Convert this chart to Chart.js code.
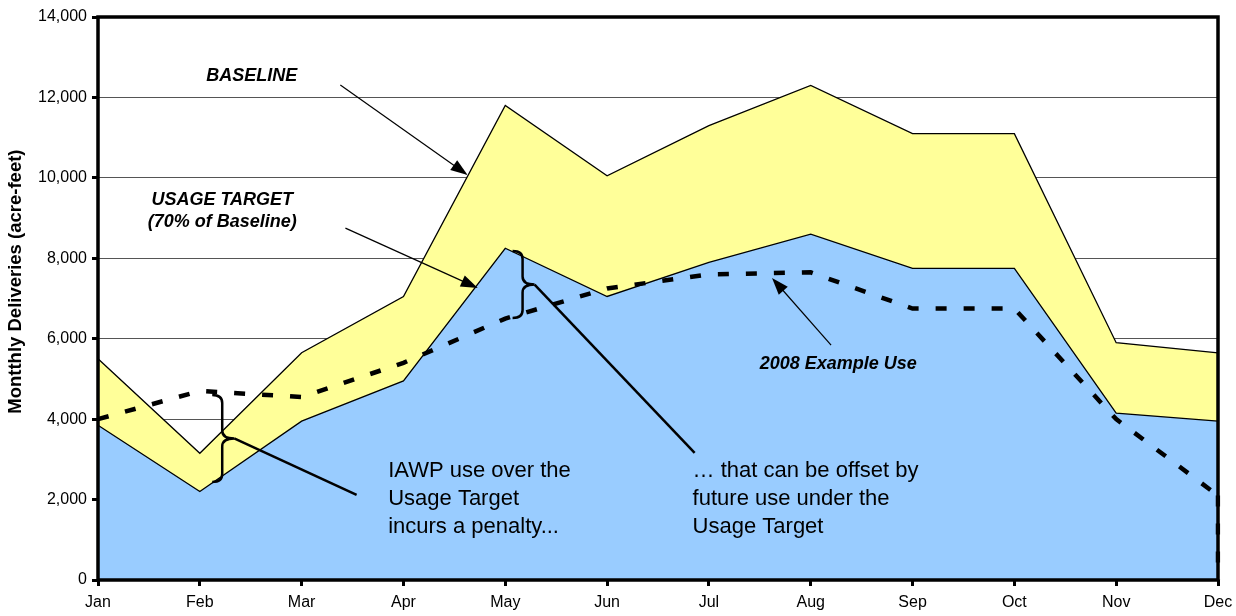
<!DOCTYPE html>
<html>
<head>
<meta charset="utf-8">
<script src="https://cdn.jsdelivr.net/npm/chart.js@4"></script>
<style>
  html, body { margin: 0; padding: 0; background: #ffffff; }
  #wrap { width: 1236px; height: 616px; }
</style>
</head>
<body>
<div id="wrap"><canvas id="deliveriesChart"></canvas></div>
<script>

const MESES = ["Jan", "Feb", "Mar", "Apr", "May", "Jun",
               "Jul", "Aug", "Sep", "Oct", "Nov", "Dec"];

const BASELINE = [5500, 3150, 5650, 7050, 11800, 10050,
                  11300, 12300, 11100, 11100, 5900, 5650];

const USAGE_TARGET = [3850, 2200, 3950, 4950, 8250, 7050,
                      7900, 8600, 7750, 7750, 4150, 3950];

const EXAMPLE_USE = [4000, 4700, 4550, 5400, 6500, 7250,
                     7600, 7650, 6750, 6750, 4000, 2100];

const Y_TICKS = [0, 2000, 4000, 6000, 8000, 10000, 12000, 14000];

const TITULO_Y = "Montthly Deliveries (acre-feet)";

const FUENTE = "'Liberation Sans', Arial, sans-serif";

// annotations in data units: [month index, value]
const ETIQUETAS = [
    { text: "BASELINE", at: [1.51, 12530], font: "italic bold 18px", align: "center" },
    { text: "USAGE TARGET", at: [1.22, 9450], font: "italic bold 18px", align: "center" },
    { text: "(70% of Baseline)", at: [1.22, 8900], font: "italic bold 18px", align: "center" },
    { text: "2008 Example Use", at: [7.27, 5370], font: "italic bold 18px", align: "center" },
    { text: "IAWP use over the", at: [2.85, 2700], font: "22px", align: "left" },
    { text: "Usage Target", at: [2.85, 2005], font: "22px", align: "left" },
    { text: "incurs a penalty...", at: [2.85, 1315], font: "22px", align: "left" },
    { text: "\u2026 that can be offset by", at: [5.84, 2700], font: "22px", align: "left" },
    { text: "future use under the", at: [5.84, 2005], font: "22px", align: "left" },
    { text: "Usage Target", at: [5.84, 1315], font: "22px", align: "left" }
];

const FLECHAS = [
    { from: [2.38, 12310], to: [3.63, 10070] },
    { from: [2.43, 8750], to: [3.73, 7260] },
    { from: [7.20, 5840], to: [6.62, 7510] }
];

const LLAVES = [
    { x: 1.22, top: 4600, bottom: 2440, line: [2.54, 2115] },
    { x: 4.17, top: 8180, bottom: 6515, line: [5.86, 3160] }
];

const anotaciones = {
    id: "anotaciones",
    afterDatasetsDraw(chart) {
        const ctx = chart.ctx;
        const xs = chart.scales.x;
        const ys = chart.scales.y;
        const px = v => xs.left + (xs.right - xs.left) * v / (MESES.length - 1);
        const py = v => ys.getPixelForValue(v);

        ctx.save();
        ctx.fillStyle = "#000000";
        ctx.strokeStyle = "#000000";

        // arrows
        FLECHAS.forEach(f => {
            const x1 = px(f.from[0]), y1 = py(f.from[1]);
            const x2 = px(f.to[0]), y2 = py(f.to[1]);
            const ang = Math.atan2(y2 - y1, x2 - x1);
            ctx.lineWidth = 1.2;
            ctx.beginPath();
            ctx.moveTo(x1, y1);
            ctx.lineTo(x2 - 10 * Math.cos(ang), y2 - 10 * Math.sin(ang));
            ctx.stroke();
            ctx.beginPath();
            ctx.moveTo(x2, y2);
            ctx.lineTo(x2 - 17 * Math.cos(ang) + 6 * Math.sin(ang),
                       y2 - 17 * Math.sin(ang) - 6 * Math.cos(ang));
            ctx.lineTo(x2 - 17 * Math.cos(ang) - 6 * Math.sin(ang),
                       y2 - 17 * Math.sin(ang) + 6 * Math.cos(ang));
            ctx.closePath();
            ctx.fill();
        });

        // braces with their pointer lines
        LLAVES.forEach(b => {
            const x = px(b.x);
            const yt = py(b.top), yb = py(b.bottom);
            const ym = (yt + yb) / 2;
            const r = 8;
            ctx.lineWidth = 2.5;
            ctx.beginPath();
            ctx.moveTo(x - 10, yt);
            ctx.quadraticCurveTo(x, yt, x, yt + r);
            ctx.lineTo(x, ym - r);
            ctx.quadraticCurveTo(x, ym, x + 12, ym);
            ctx.quadraticCurveTo(x, ym, x, ym + r);
            ctx.lineTo(x, yb - r);
            ctx.quadraticCurveTo(x, yb, x - 10, yb);
            ctx.stroke();
            ctx.beginPath();
            ctx.moveTo(x + 12, ym);
            ctx.lineTo(px(b.line[0]), py(b.line[1]));
            ctx.stroke();
        });

        // texts
        ctx.textBaseline = "middle";
        ETIQUETAS.forEach(t => {
            ctx.font = t.font + " " + FUENTE;
            ctx.textAlign = t.align;
            ctx.fillText(t.text, px(t.at[0]), py(t.at[1]));
        });

        ctx.restore();
    }
};

const marco = {
    id: "marco",
    afterDraw(chart) {
        const a = chart.chartArea;
        const ctx = chart.ctx;
        ctx.save();
        ctx.strokeStyle = "#000000";
        ctx.lineWidth = 3.5;
        ctx.strokeRect(a.left, a.top, a.right - a.left, a.bottom - a.top);

        // y axis title (sits a bit above the plot middle)
        ctx.translate(16, a.top + (a.bottom - a.top) * 0.47);
        ctx.rotate(-Math.PI / 2);
        ctx.font = "bold 18.5px " + FUENTE;
        ctx.fillStyle = "#000000";
        ctx.textAlign = "center";
        ctx.textBaseline = "middle";
        ctx.fillText(TITULO_Y, 0, 0);
        ctx.restore();
    }
};

function crearGraficoEntregas() {

    const ctx =
        document.getElementById(
            "deliveriesChart"
        );

    const ultimo = MESES[MESES.length - 1];

    new Chart(ctx, {

        type: "line",

        data: {
            labels: MESES,
            datasets: [
                {
                    label: "2008 Example Use",
                    data: EXAMPLE_USE,
                    borderColor: "#000000",
                    borderWidth: 4.5,
                    borderDash: [11, 17],
                    borderCapStyle: "butt",
                    pointRadius: 0,
                    fill: false,
                    order: 0
                },
                {
                    label: "Example Use drop",
                    data: [
                        { x: ultimo, y: EXAMPLE_USE[EXAMPLE_USE.length - 1] },
                        { x: ultimo, y: 0 }
                    ],
                    borderColor: "#000000",
                    borderWidth: 4.5,
                    borderDash: [11, 17],
                    pointRadius: 0,
                    fill: false,
                    order: 0
                },
                {
                    label: "Usage Target",
                    data: USAGE_TARGET,
                    borderColor: "#000000",
                    borderWidth: 1.3,
                    backgroundColor: "#99ccff",
                    pointRadius: 0,
                    fill: "origin",
                    order: 1
                },
                {
                    label: "Baseline",
                    data: BASELINE,
                    borderColor: "#000000",
                    borderWidth: 1.3,
                    backgroundColor: "#ffff99",
                    pointRadius: 0,
                    fill: "origin",
                    order: 2
                }
            ]
        },

        options: {
            responsive: true,
            maintainAspectRatio: false,
            animation: false,
            layout: {
                padding: { top: 17, right: 18, left: 0, bottom: 0 }
            },
            plugins: {
                legend: { display: false },
                tooltip: { enabled: false }
            },
            scales: {
                x: {
                    offset: false,
                    grid: {
                        drawOnChartArea: false,
                        tickLength: 6,
                        tickWidth: 3,
                        tickColor: "#000000"
                    },
                    border: { display: false },
                    ticks: {
                        padding: 7,
                        maxRotation: 0,
                        autoSkip: false,
                        color: "#000000",
                        font: { family: FUENTE, size: 16 }
                    },
                    afterFit(scale) {
                        scale.height = 36;
                        scale.paddingLeft = 0;
                        scale.paddingRight = 0;
                    }
                },
                y: {
                    min: 0,
                    max: 14000,
                    afterBuildTicks(scale) {
                        scale.ticks = Y_TICKS.map(v => ({ value: v }));
                    },
                    grid: {
                        color: "#555555",
                        lineWidth: 1,
                        tickLength: 6,
                        tickWidth: 3,
                        tickColor: "#000000"
                    },
                    border: { display: false },
                    ticks: {
                        padding: 5,
                        color: "#000000",
                        font: { family: FUENTE, size: 16 },
                        callback: v => v.toLocaleString("en-US")
                    },
                    afterFit(scale) {
                        scale.width = 98;
                    }
                }
            }
        },

        plugins: [anotaciones, marco]

    });
}

crearGraficoEntregas();
</script>
</body>
</html>
